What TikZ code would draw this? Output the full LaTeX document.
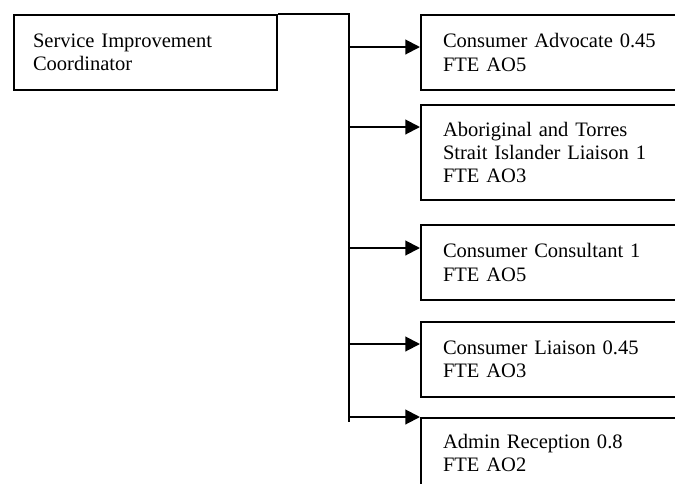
\documentclass[tikz,border=0pt]{standalone}
\usepackage{fontspec}
\setmainfont{Liberation Serif}
\usetikzlibrary{arrows.meta,calc}
\begin{document}
\begin{tikzpicture}[x=0.75pt,y=-0.75pt,
  ln/.style={line width=1.5pt},
  box/.style={draw,line width=1.5pt,anchor=north west,align=left,
    font=\fontsize{15.4pt}{17.6pt}\selectfont,inner ysep=0pt},
  lbox/.style={box,text width=168.75pt,inner xsep=14.25pt,minimum width=197.25pt},
  rbox/.style={box,text width=177pt,inner xsep=16.5pt},
  arr/.style={ln,-{Triangle[length=11pt,width=11pt]}}]
\useasboundingbox (0,0) rectangle (675,483);
\node[lbox,minimum height=56.25pt] (sic) at (13,14) {Service Improvement\\Coordinator};
\node[rbox,minimum height=56.25pt] (b1) at (420,14) {Consumer Advocate 0.45\\FTE AO5};
\node[rbox,minimum height=71.25pt] (b2) at (420,104) {Aboriginal and Torres\\Strait Islander Liaison 1\\FTE AO3};
\node[rbox,minimum height=56.25pt] (b3) at (420,224) {Consumer Consultant 1\\FTE AO5};
\node[rbox,minimum height=56.25pt] (b4) at (420,321) {Consumer Liaison 0.45\\FTE AO3};
\node[rbox,minimum height=52.5pt] (b5) at (420,417) {Admin Reception 0.8\\FTE AO2};
\coordinate (jt) at (349,14);
\coordinate (je) at (349,422);
\coordinate (t1) at (349,47);
\coordinate (t2) at (349,127);
\coordinate (t3) at (349,248);
\coordinate (t4) at (349,344);
\coordinate (t5) at (349,417);
\draw[ln] (sic.north east) -- (jt) -- (je);
\draw[arr] (t1) -- (t1 -| b1.west);
\draw[arr] (t2) -- (t2 -| b2.west);
\draw[arr] (t3) -- (t3 -| b3.west);
\draw[arr] (t4) -- (t4 -| b4.west);
\draw[arr] (t5) -- (b5.north west);
\end{tikzpicture}
\end{document}
